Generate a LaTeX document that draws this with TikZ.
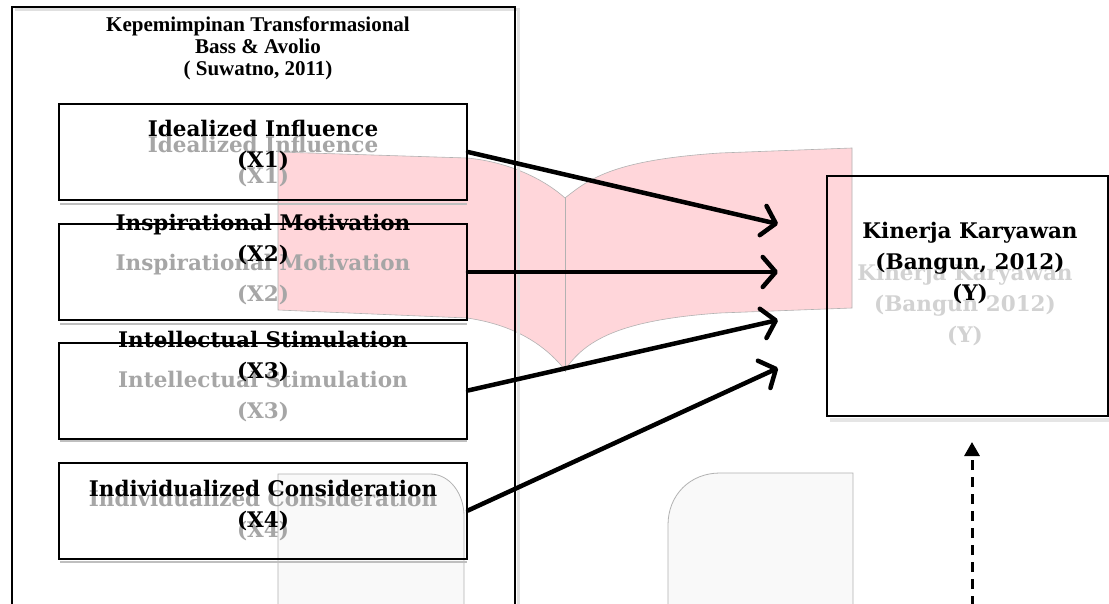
\documentclass[tikz,border=0pt]{standalone}
\usepackage{fontspec}
\setmainfont{Liberation Serif}
\newfontfamily\camb{DejaVu Serif}
\usetikzlibrary{arrows.meta}
\definecolor{pinkfill}{HTML}{FFD6DA}
\definecolor{ghost}{HTML}{A6A6A6}
\definecolor{ghostlight}{HTML}{D2D2D2}
\definecolor{panelfill}{HTML}{F9F9F9}
\tikzset{
  dimbox/.style={draw=black, line width=2pt, minimum width=408pt, minimum height=96pt, inner sep=0pt},
  boxtxt/.style={font=\camb\bfseries\fontsize{21.5}{31}\selectfont, align=center, inner sep=0pt},
  ghosttxt/.style={boxtxt, text=ghost},
  titletxt/.style={font=\bfseries\fontsize{21}{22}\selectfont, align=center, inner sep=0pt},
  shadowline/.style={draw=black!25, line width=2pt},
  bigarrow/.style={line width=4.5pt, line cap=round, -{Straight Barb[length=13pt,width=30pt,round]}},
  dasharrow/.style={line width=3pt, dash pattern=on 10pt off 7pt, -{Triangle[length=14pt,width=15pt]}},
  panel/.style={fill=panelfill, draw=black!30, line width=0.8pt}
}
\begin{document}
\begin{tikzpicture}[x=1pt,y=-1pt]
\useasboundingbox (0,0) rectangle (1109,604);
\fill[white] (0,0) rectangle (1109,604);

% faint background panels
\path[panel] (278,606) -- (278,474) -- (430,474) .. controls (450,474) and (464,494) .. (464,516) -- (464,606);
\path[panel] (668,606) -- (668,525) .. controls (668,495) and (690,473) .. (720,473) -- (853,473) -- (853,606);

% pink ribbon
\path[fill=pinkfill, draw=black!30, line width=0.6pt]
  (278,152) -- (467,158) .. controls (510,162) and (545,180) .. (565,198)
  .. controls (590,178) and (615,160) .. (720,153) -- (852,148) -- (852,308)
  -- (720,313) .. controls (620,320) and (585,340) .. (565,370)
  .. controls (545,345) and (515,325) .. (467,318) -- (278,310) -- cycle;
\draw[black!30, line width=1pt] (565,198) -- (565,372);

% outer frame
\draw[black!12, line width=3pt] (15,10) -- (518,10) -- (518,606);
\draw[line width=1.5pt] (12,606) -- (12,7) -- (515,7) -- (515,606);
\node[titletxt] (title) at (258,48) {Kepemimpinan Transformasional\\Bass \& Avolio\\( Suwatno, 2011)};

% shadows under boxes
\draw[shadowline] (60,204) -- (467,204);
\draw[shadowline] (60,324) -- (467,324);
\draw[shadowline] (60,441) -- (467,441);
\draw[shadowline] (60,562) -- (467,562);

% dimension boxes
\node[dimbox] (b1) at (263,152) {};
\node[dimbox] (b2) at (263,272) {};
\node[dimbox] (b3) at (263,390.5) {};
\node[dimbox] (b4) at (263,510.5) {};

% ghost texts
\node[ghosttxt] (g1) at (263,162) {Idealized Influence\\(X1)};
\node[ghosttxt] (g2) at (263,280) {Inspirational Motivation\\(X2)};
\node[ghosttxt] (g3) at (263,397) {Intellectual Stimulation\\(X3)};
\node[ghosttxt] (g4) at (263,516) {Individualized Consideration\\(X4)};

% main texts
\node[boxtxt] (l1) at (263,146) {Idealized Influence\\(X1)};
\node[boxtxt] (l2) at (263,240) {Inspirational Motivation\\(X2)};
\node[boxtxt] (l3) at (263,357) {Intellectual Stimulation\\(X3)};
\node[boxtxt] (l4) at (263,506) {Individualized Consideration\\(X4)};

% Y box
\draw[black!10, line width=4pt] (830,420) -- (1109,420);
\node[draw=black, line width=2pt, minimum width=280.5pt, minimum height=240pt, inner sep=0pt] (Y) at (967.25,296) {};
\node[boxtxt, text=ghostlight] (gy) at (965,305) {Kinerja Karyawan\\(Bangun 2012)\\(Y)};
\node[boxtxt] (ly) at (970,263) {Kinerja Karyawan\\(Bangun, 2012)\\(Y)};

% arrow targets
\coordinate (t1) at (778,224);
\coordinate (t2) at (778,272);
\coordinate (t3) at (778,320);
\coordinate (t4) at (778,368);
\coordinate (d0) at (972,606);
\coordinate (d1) at (972,442);

\draw[bigarrow] (b1.east) -- (t1);
\draw[bigarrow] (b2.east) -- (t2);
\draw[bigarrow] (b3.east) -- (t3);
\draw[bigarrow] (b4.east) -- (t4);
\draw[dasharrow] (d0) -- (d1);
\end{tikzpicture}
\end{document}
